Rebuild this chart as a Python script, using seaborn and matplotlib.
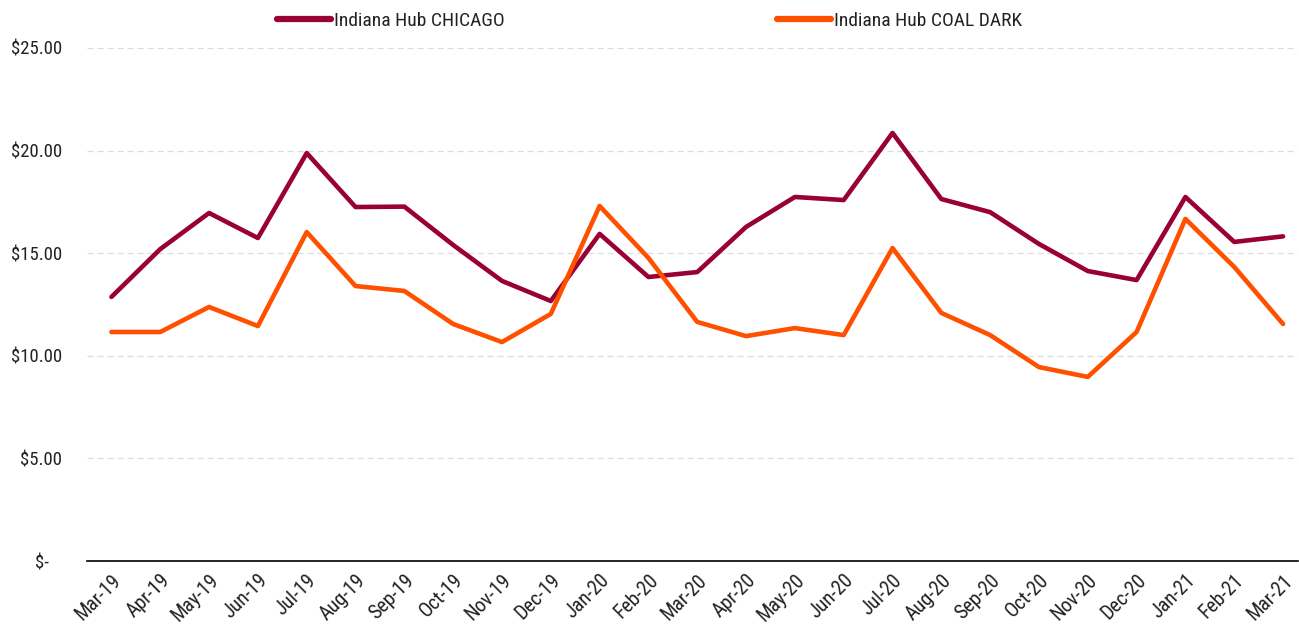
import matplotlib
matplotlib.use('Agg')
import matplotlib.pyplot as plt
import seaborn as sns
import pandas as pd
from matplotlib import font_manager
from matplotlib.ticker import FuncFormatter

months = ['Mar-19', 'Apr-19', 'May-19', 'Jun-19', 'Jul-19', 'Aug-19', 'Sep-19', 'Oct-19',
          'Nov-19', 'Dec-19', 'Jan-20', 'Feb-20', 'Mar-20', 'Apr-20', 'May-20', 'Jun-20',
          'Jul-20', 'Aug-20', 'Sep-20', 'Oct-20', 'Nov-20', 'Dec-20', 'Jan-21', 'Feb-21', 'Mar-21']
chicago = [12.87, 15.20, 16.96, 15.74, 19.88, 17.25, 17.27, 15.40, 13.65, 12.67, 15.94, 13.84,
           14.08, 16.28, 17.74, 17.59, 20.86, 17.64, 17.00, 15.45, 14.13, 13.69, 17.74, 15.55, 15.82]
coal_dark = [11.16, 11.16, 12.38, 11.45, 16.03, 13.40, 13.16, 11.55, 10.67, 12.04, 17.30, 14.77,
             11.65, 10.96, 11.35, 11.01, 15.25, 12.09, 11.01, 9.45, 8.97, 11.16, 16.67, 14.33, 11.55]

df = pd.DataFrame({'Month': months * 2,
                   'Price': chicago + coal_dark,
                   'Series': ['Indiana Hub CHICAGO'] * len(months) + ['Indiana Hub COAL DARK'] * len(months)})
df['x'] = list(range(len(months))) * 2

sns.set_theme(style='white')
# condensed font if there is one, else the narrower Liberation Sans
installed = {f.name for f in font_manager.fontManager.ttflist}
fams = [f for f in ['Roboto Condensed', 'Liberation Sans Narrow', 'Liberation Sans'] if f in installed]
plt.rcParams['font.family'] = fams + ['DejaVu Sans']

fig = plt.figure(figsize=(12.99, 6.25), dpi=100)
ax = fig.add_axes([0.067, 0.1024, 0.932, 0.8208])

sns.lineplot(data=df, x='x', y='Price', hue='Series',
             palette={'Indiana Hub CHICAGO': '#990034', 'Indiana Hub COAL DARK': '#FF5000'},
             linewidth=3.3, ax=ax, legend=True)

ax.set_xlim(-0.5, 24.3)
ax.set_ylim(0, 25)
ax.set_yticks([0, 5, 10, 15, 20, 25])
ax.yaxis.set_major_formatter(FuncFormatter(lambda v, p: '$-   ' if v == 0 else f'${v:.2f}'))
ax.set_xticks(range(len(months)))
ax.set_xticklabels(months, rotation=45, ha='right', rotation_mode='anchor')
ax.tick_params(axis='both', colors='#222222', length=0)
ax.tick_params(axis='x', labelsize=14.5, pad=7)
ax.tick_params(axis='y', labelsize=13.5, pad=18)
ax.set_xlabel('')
ax.set_ylabel('')
for g in [5, 10, 15, 20, 25]:
    ax.axhline(g, color='#dddddd', linestyle=(0, (5, 3)), linewidth=0.9, zorder=0)
for s in ['top', 'right', 'left']:
    ax.spines[s].set_visible(False)
ax.spines['bottom'].set_color('black')
ax.spines['bottom'].set_linewidth(1.2)

leg = ax.legend(loc='center', bbox_to_anchor=(0.5, 0.966), bbox_transform=fig.transFigure,
                ncol=2, frameon=False, fontsize=14, handlelength=2.8, handletextpad=0.15,
                columnspacing=14)
for line in leg.get_lines():
    line.set_linewidth(4.5)
    line.set_solid_capstyle('round')
for t in leg.get_texts():
    t.set_color('#222222')

fig.savefig('out.png', dpi=100)
